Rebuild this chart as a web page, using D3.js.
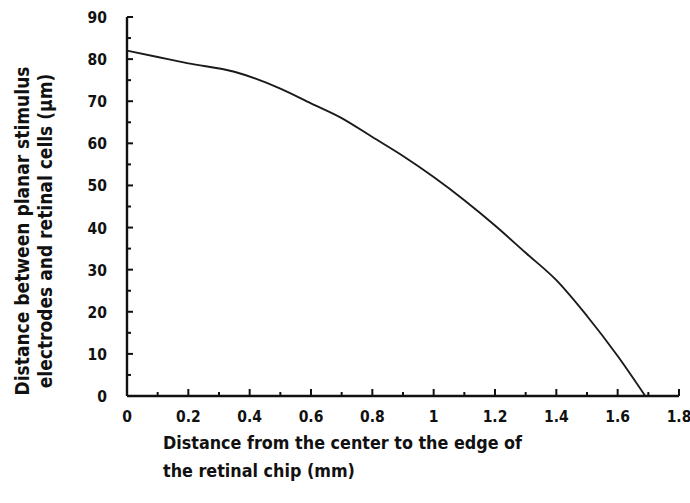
<!DOCTYPE html>
<html>
<head>
<meta charset="utf-8">
<script src="https://cdn.jsdelivr.net/npm/d3@7"></script>
<style>
  body { margin: 0; background: #fff; }
  svg text { font-family: "DejaVu Sans Condensed", "DejaVu Sans", sans-serif; font-weight: bold; fill: #111; }
  .tick-label { font-size: 15.5px; }
  .x-title { font-size: 17.8px; }
  .y-title { font-size: 19px; }
</style>
</head>
<body>
<svg id="chart" width="690" height="503"></svg>
<script>
// distance from center (mm) and electrode-cell distance (um)
var distMm = [0, 0.1, 0.2, 0.35, 0.5, 0.6, 0.7, 0.8, 0.9, 1.0, 1.1, 1.2, 1.3, 1.4, 1.5, 1.6, 1.69];
var gapUm  = [82, 80.5, 79, 77, 73, 69.5, 66, 61.5, 57, 52, 46.5, 40.5, 34, 27.5, 19, 9.5, 0];
var xTicks = [0, 0.2, 0.4, 0.6, 0.8, 1, 1.2, 1.4, 1.6, 1.8];
var yTicks = [0, 10, 20, 30, 40, 50, 60, 70, 80, 90];
var xTitle = ["Distance from the center to the edge of", "the retinal chip (mm)"];
var yTitle = ["Distance between planar stimulus", "electrodes and retinal cells (\u03bcm)"];

var svg = d3.select("#chart");
var x = d3.scaleLinear().domain([0, 1.8]).range([127, 679]);
var y = d3.scaleLinear().domain([0, 90]).range([396, 17]);

// minor ticks (every 0.1 / every 5)
var xMinor = d3.range(0, 1.81, 0.1);
var yMinor = d3.range(0, 90.1, 5);

var g = svg.append("g");

// axis lines
g.append("line").attr("x1", x(0)).attr("x2", x(1.8)).attr("y1", y(0)).attr("y2", y(0))
  .attr("stroke", "#111").attr("stroke-width", 2.4);
g.append("line").attr("x1", x(0)).attr("x2", x(0)).attr("y1", y(0)).attr("y2", y(90))
  .attr("stroke", "#111").attr("stroke-width", 2.4);

// tick marks pointing inward
g.selectAll(".xt").data(xMinor).enter().append("line")
  .attr("x1", function(d) { return x(d); }).attr("x2", function(d) { return x(d); })
  .attr("y1", y(0))
  .attr("y2", function(d, i) { return y(0) - (i % 2 === 0 ? 7 : 4); })
  .attr("stroke", "#111").attr("stroke-width", 2);
g.selectAll(".yt").data(yMinor).enter().append("line")
  .attr("y1", function(d) { return y(d); }).attr("y2", function(d) { return y(d); })
  .attr("x1", x(0))
  .attr("x2", function(d, i) { return x(0) + (i % 2 === 0 ? 6 : 4); })
  .attr("stroke", "#111").attr("stroke-width", 2);

// tick labels
g.selectAll(".xl").data(xTicks).enter().append("text")
  .attr("class", "tick-label")
  .attr("x", function(d) { return x(d); })
  .attr("y", 422)
  .attr("text-anchor", "middle")
  .text(function(d) { return d; });
g.selectAll(".yl").data(yTicks).enter().append("text")
  .attr("class", "tick-label")
  .attr("x", 107)
  .attr("y", function(d) { return y(d) + 6; })
  .attr("text-anchor", "end")
  .text(function(d) { return d; });

// curve
var line = d3.line()
  .x(function(d) { return x(d[0]); })
  .y(function(d) { return y(d[1]); })
  .curve(d3.curveMonotoneX);
g.append("path")
  .datum(d3.zip(distMm, gapUm))
  .attr("fill", "none")
  .attr("stroke", "#1a1a1a")
  .attr("stroke-width", 1.9)
  .attr("d", line);

// axis titles
g.selectAll(".xtt").data(xTitle).enter().append("text")
  .attr("class", "x-title")
  .attr("x", 163)
  .attr("y", function(d, i) { return 449 + i * 28; })
  .text(function(d) { return d; });
g.selectAll(".ytt").data(yTitle).enter().append("text")
  .attr("class", "y-title")
  .attr("text-anchor", "middle")
  .attr("transform", function(d, i) { return "translate(" + (29 + i * 23) + ",231) rotate(-90)"; })
  .text(function(d) { return d; });
</script>
</body>
</html>
